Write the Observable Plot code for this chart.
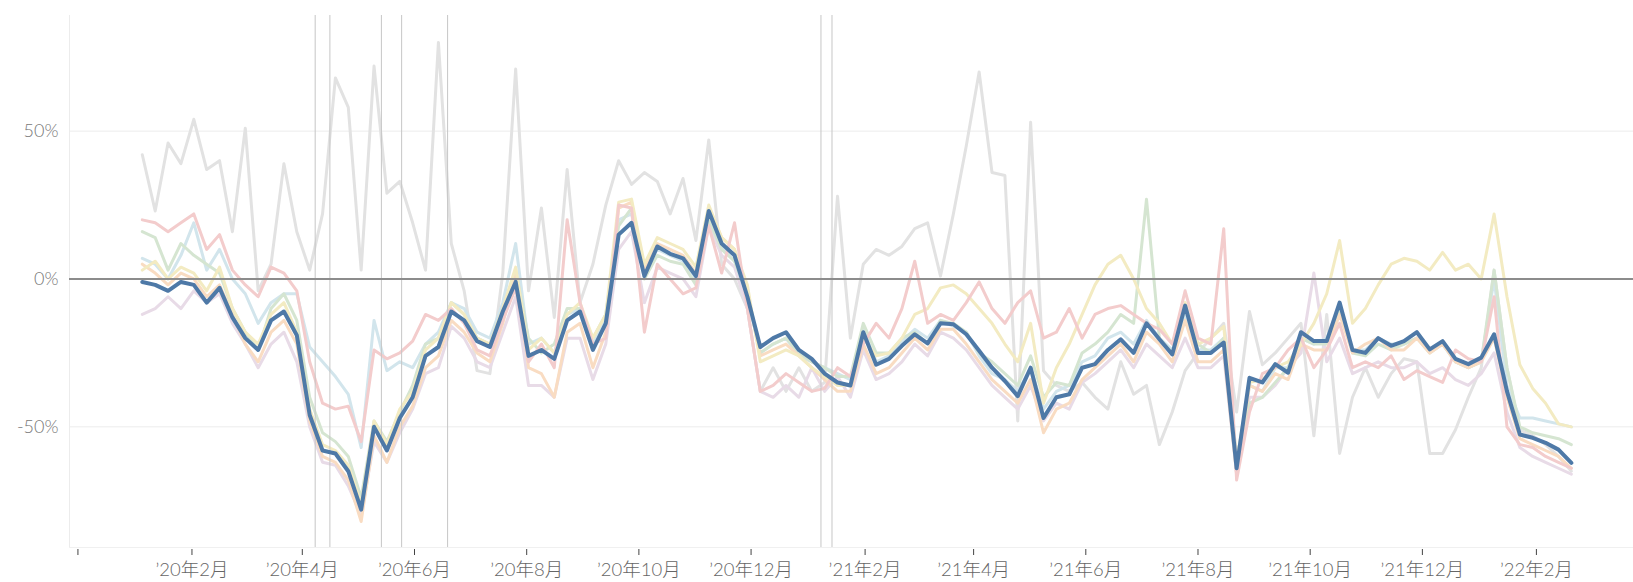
<!DOCTYPE html>
<html>
<head>
<meta charset="utf-8">
<script src="https://cdn.jsdelivr.net/npm/d3@7"></script>
<script src="https://cdn.jsdelivr.net/npm/@observablehq/plot@0.6"></script>
<style>
  html, body { margin: 0; padding: 0; background: #fff; }
  #chart svg { display: block; }
</style>
</head>
<body>
<div id="chart"></div>
<script>
// weekly series, first week starting 2020-01-05
const firstWeek = "2020-01-05";

const blue = [-1,-2,-4,-1,-2,-8,-3,-13,-20,-24,
 -14,-11,-19,-46,-58,-59,-65,-78,-50,-58,
 -47,-40,-26,-23,-11,-14,-21,-23,-11,-1,
 -26,-24,-27,-14,-11,-24,-15,15,19,1,
 11,8.5,7,1,23,12,8,-6,-23,-20,
 -18,-24,-27,-32,-35,-36,-18,-29,-27,-22.6,
 -18.7,-21.8,-15,-15.3,-18.7,-24.3,-30,-34.5,-39.6,-30,
 -47,-40,-39,-30,-28.8,-24,-20.4,-25,-15,-20.4,
 -25.5,-9,-25,-25,-21.5,-64,-33.4,-35,-28.8,-31.7,
 -18,-21,-21,-8,-24,-25,-20,-22.6,-21,-18,
 -23.8,-21,-27,-28.8,-26.6,-18.7,-38,-52.6,-53.7,-55.4,
 -57.7,-62.2];

const gray = [42,23,46,39,54,37,40,16,51,-4,
 5,39,16,3,22,68,58,3,72,29,
 33,19,3,80,12,-4,-31,-32,2,71,
 -4,24,-13,37,-8,5,25,40,32,36,
 33,22,34,13,47,5,0,-10,-38,-30,
 -38,-30,-38,-35,28,-20,5,10,8,11,
 17,19,1,22,45,70,36,35,-48,53,
 -31,-36,-38,-35,-40,-44,-28,-39,-36,-56,
 -45,-31,-25,-20,-15,-45,-11,-29,-25,-20,
 -15,-53,-12,-59,-40,-30,-40,-32,-27,-28,
 -59,-59,-51,-40,-30,3,-30,-51,-53,-56,
 -60,-65];

const rose = [20,19,16,19,22,10,15,3,-2,-6,
 4,2,-4,-28,-42,-44,-43,-55,-24,-27,
 -25,-21,-12,-14,-10,-15,-24,-26,-14,-3,
 -28,-22,-30,20,-8,-22,-20,25,24,-18,
 5,0,-5,-3,18,2,19,-10,-38,-36,
 -32,-35,-38,-37,-30,-33,-22,-15,-20,-10,
 6,-15,-12,-14,-8,-1,-10,-15,-8,-4,
 -20,-18,-10,-20,-12,-10,-9,-12,-15,-17,
 -22,-4,-20,-22,17,-68,-45,-32,-30,-24,
 -20,-30,-24,-15,-30,-28,-30,-26,-34,-31,
 -33,-35,-24,-27,-28,-6,-50,-56,-57,-60,
 -62,-64];

const green = [16,14,3,12,8,5,2,-10,-18,-24,
 -10,-5,-14,-40,-52,-55,-60,-74,-48,-55,
 -45,-36,-22,-20,-8,-12,-20,-22,-10,3,
 -20,-25,-22,-10,-10,-20,-12,18,24,0,
 8,6,5,-2,20,10,6,-5,-25,-22,
 -20,-25,-28,-30,-33,-33,-15,-25,-25,-20,
 -18,-22,-14,-15,-18,-25,-28,-32,-36,-26,
 -40,-35,-36,-25,-22,-18,-12,-15,27,-20,
 -25,-10,-22,-25,-20,-60,-42,-40,-35,-30,
 -20,-22,-22,-10,-25,-26,-22,-24,-22,-20,
 -25,-22,-28,-30,-28,3,-30,-50,-52,-53,
 -54,-56];

const teal = [7,5,0,8,19,3,10,0,-5,-15,
 -8,-5,-5,-23,-28,-33,-39,-57,-14,-31,
 -28,-30,-22,-18,-8,-10,-18,-20,-8,12,
 -22,-20,-25,-12,-10,-22,-14,20,22,3,
 10,8,6,0,21,11,6,-6,-25,-22,
 -20,-26,-28,-30,-32,-34,-17,-28,-26,-21,
 -17,-20,-14,-16,-18,-26,-32,-34,-38,-30,
 -44,-38,-36,-28,-26,-20,-18,-22,-14,-20,
 -24,-12,-24,-24,-20,-62,-36,-38,-30,-30,
 -20,-22,-20,-10,-24,-24,-20,-22,-22,-20,
 -24,-22,-28,-30,-28,0,-36,-47,-47,-48,
 -49,-50];

const orange = [5,2,-2,2,0,-6,-2,-12,-22,-28,
 -18,-14,-22,-48,-60,-62,-68,-82,-53,-62,
 -50,-43,-30,-26,-14,-18,-25,-28,-15,2,
 -30,-32,-40,-18,-15,-30,-18,24,26,3,
 12,10,8,2,24,14,10,-4,-26,-24,
 -22,-26,-30,-34,-38,-38,-22,-32,-30,-25,
 -20,-24,-17,-17,-22,-28,-34,-38,-42,-34,
 -52,-44,-42,-34,-30,-26,-22,-28,-18,-22,
 -28,-14,-28,-28,-24,-66,-36,-38,-32,-34,
 -22,-24,-24,-12,-25,-22,-20,-24,-24,-20,
 -25,-22,-28,-30,-28,-20,-40,-54,-56,-58,
 -60,-64];

const yellow = [3,6,0,4,2,-4,4,-10,-18,-22,
 -12,-8,-18,-44,-56,-58,-63,-76,-48,-56,
 -44,-38,-24,-20,-8,-12,-20,-22,-10,4,
 -24,-20,-25,-12,-8,-20,-12,26,27,5,
 14,12,10,4,25,14,10,-2,-28,-26,
 -24,-26,-30,-33,-36,-36,-20,-26,-25,-20,
 -12,-10,-3,-2,-5,-10,-15,-22,-28,-15,
 -42,-30,-22,-12,-2,5,8,0,-10,-15,
 -22,-8,-22,-20,-16,-62,-35,-34,-30,-28,
 -22,-15,-5,13,-15,-10,-2,5,7,6,
 3,9,3,5,0,22,-6,-29,-37,-42,
 -49,-50];

const mauve = [-12,-10,-6,-10,-4,-8,-5,-15,-22,-30,
 -22,-18,-28,-50,-62,-63,-70,-80,-55,-62,
 -52,-44,-32,-30,-16,-20,-28,-30,-18,-6,
 -36,-36,-40,-20,-20,-34,-22,10,16,-8,
 4,2,0,-6,18,8,4,-10,-38,-40,
 -36,-40,-30,-38,-33,-40,-24,-34,-32,-28,
 -22,-26,-18,-20,-24,-30,-36,-40,-44,-36,
 -48,-42,-44,-35,-32,-28,-24,-30,-22,-26,
 -30,-20,-30,-30,-26,-66,-40,-40,-36,-30,
 -25,2,-28,-20,-32,-30,-28,-30,-30,-28,
 -32,-30,-34,-36,-32,-25,-45,-57,-60,-62,
 -64,-66];

// reference event dates (vertical lines)
const eventDates = ["2020-04-08","2020-04-16","2020-05-14","2020-05-25","2020-06-19","2021-01-08","2021-01-14"];

// x-axis ticks (every two months); the first tick has no label
const tickDates = ["2019-12-01","2020-02-01","2020-04-01","2020-06-01","2020-08-01","2020-10-01","2020-12-01",
  "2021-02-01","2021-04-01","2021-06-01","2021-08-01","2021-10-01","2021-12-01","2022-02-01"];
const tickLabels = ["","’20年2月","’20年4月","’20年6月","’20年8月","’20年10月","’20年12月",
  "’21年2月","’21年4月","’21年6月","’21年8月","’21年10月","’21年12月","’22年2月"];

const yTicks = [50, 0, -50];

const background = [
  {name: "gray", values: gray, color: "#e2e2e2"},
  {name: "mauve", values: mauve, color: "#e8dbe7"},
  {name: "teal", values: teal, color: "#d2e5ec"},
  {name: "green", values: green, color: "#d5e5d1"},
  {name: "orange", values: orange, color: "#f9dcc2"},
  {name: "yellow", values: yellow, color: "#f3ebc2"},
  {name: "rose", values: rose, color: "#f3cccc"}
];

const start = new Date(firstWeek + "T00:00Z");
const dates = blue.map((_, i) => d3.utcDay.offset(start, 7 * i));
const toRows = (arr) => arr.map((v, i) => ({date: dates[i], value: v}));

const tickDateObjs = tickDates.map(d => new Date(d + "T00:00Z"));
const labelMap = new Map(tickDateObjs.map((d, i) => [+d, tickLabels[i]]));

const font = "Lato, 'Noto Sans CJK JP', 'Noto Sans', sans-serif";

const chart = Plot.plot({
  width: 1633,
  height: 582,
  marginTop: 15,
  marginBottom: 35,
  marginLeft: 69,
  marginRight: 0,
  style: {fontFamily: font, background: "#fff"},
  x: {type: "utc", domain: [new Date("2019-11-26T10:00Z"), new Date("2022-03-25T19:00Z")], label: null},
  y: {domain: [-90.8, 89.1], label: null},
  marks: [
    Plot.ruleY([50, -50], {stroke: "#ececec", strokeWidth: 1}),
    Plot.frame({anchor: "left", stroke: "#ececec"}),
    Plot.frame({anchor: "bottom", stroke: "#f0f0f0"}),
    ...background.map(s => Plot.line(toRows(s.values), {
      x: "date", y: "value", stroke: s.color, strokeWidth: 3, strokeLinejoin: "round"
    })),
    Plot.ruleX(eventDates.map(d => new Date(d + "T00:00Z")), {stroke: "#c6c6c6", strokeWidth: 1}),
    Plot.ruleY([0], {stroke: "#8c8c8c", strokeWidth: 2}),
    Plot.line(toRows(blue), {x: "date", y: "value", stroke: "#4e79a7", strokeWidth: 4, strokeLinejoin: "round", strokeLinecap: "round"}),
    Plot.axisY({ticks: yTicks, tickFormat: d => d + "%", tickSize: 0, tickPadding: 11, fontSize: 18, fontWeight: 300, color: "#777", label: null}),
    Plot.axisX({ticks: tickDateObjs, tickFormat: () => "", tickSize: 6, dy: 2, stroke: "#444", color: "#444", label: null}),
    Plot.axisX({ticks: tickDateObjs, tickFormat: d => labelMap.get(+d), tickSize: 0, tickPadding: 15, fontSize: 18.5, fontWeight: 300, color: "#666", label: null})
  ]
});

document.getElementById("chart").appendChild(chart);
</script>
</body>
</html>
